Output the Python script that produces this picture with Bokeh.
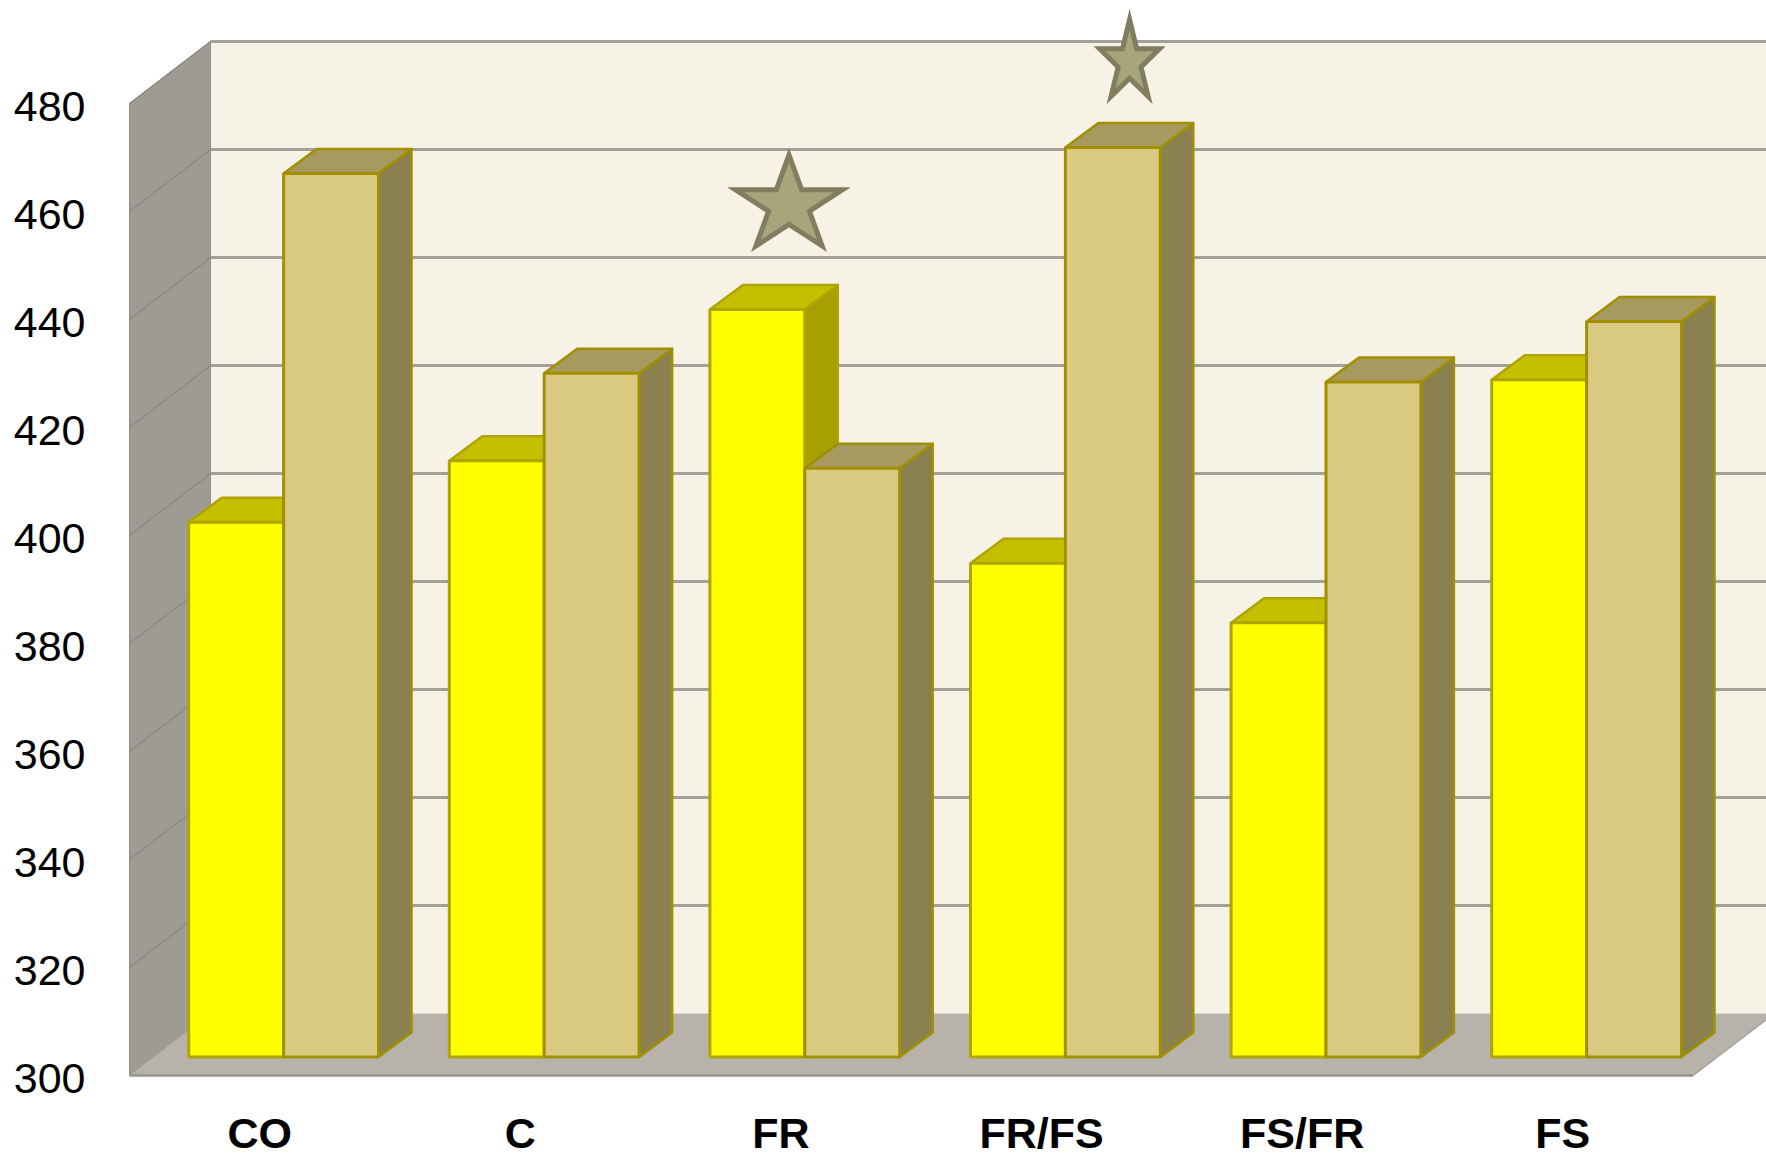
import math
from bokeh.plotting import figure
from bokeh.models import FixedTicker, Range1d, LinearAxis
from bokeh.embed import file_html
from bokeh.resources import INLINE

categories = ["CO", "C", "FR", "FR/FS", "FS/FR", "FS"]
series_a = [399, 410.4, 438.4, 391.4, 380.4, 425.4]
series_b = [463.6, 426.6, 409, 468.4, 425, 436.2]
y_ticks = [300, 320, 340, 360, 380, 400, 420, 440, 460, 480]
star_categories = [2, 3]
star_values = [458.6, 485.0]

W, H = 1766, 1156
PX_X, PX_Y = 260.6, 5.4          # pixels per category / per value unit
LEFT_PX, BOTTOM_PX = 129, 81     # margin left of / below the front floor corner
x0 = -0.5 - LEFT_PX / PX_X
x1 = x0 + W / PX_X
y0 = 300 - BOTTOM_PX / PX_Y
y1 = y0 + H / PX_Y

# projection offsets
WALL_DX, WALL_DY = 81 / PX_X, 62 / PX_Y
BAR_DX, BAR_DY = 23.8 / PX_X, 18.6 / PX_Y
BAR_W = 94.9 / PX_X
TOP_DX, TOP_DY = 33 / PX_X, 24.5 / PX_Y
LABEL_SHIFT = 3 / PX_Y

p = figure(width=W, height=H, x_range=(x0, x1), y_range=(y0, y1),
           output_backend="svg", toolbar_location=None,
           y_axis_location=None,
           min_border=0, min_border_left=0, min_border_right=0,
           min_border_top=0, min_border_bottom=0,
           background_fill_color="white", border_fill_color="white")
p.outline_line_color = None
p.grid.visible = False
p.extra_y_ranges = {"labels": Range1d(y0 + LABEL_SHIFT, y1 + LABEL_SHIFT)}

# back wall, left wall, floor
bx = -0.5 + WALL_DX
far = x1 + 1
p.quad(left=bx, right=far, bottom=300 + WALL_DY, top=480 + WALL_DY,
       fill_color="#F6F2E6", line_color=None)
p.patch([-0.5, bx, bx, -0.5], [300, 300 + WALL_DY, 480 + WALL_DY, 480],
        fill_color="#9E9C92", line_color="#8F8D85", line_width=1)
p.patch([-0.5, 5.5, 5.5 + WALL_DX, bx], [300, 300, 300 + WALL_DY, 300 + WALL_DY],
        fill_color="#B8B3AA", line_color=None)
p.segment(x0=[-0.5], y0=[300], x1=[5.5], y1=[300], line_color="#96938B", line_width=2.5)
p.segment(x0=[5.5], y0=[300], x1=[5.5 + WALL_DX], y1=[300 + WALL_DY], line_color="#A5A29A", line_width=1.5)
grid_t = [t for t in y_ticks if t > 300]
p.segment(x0=[bx] * len(grid_t), y0=[t + WALL_DY for t in grid_t],
          x1=[far] * len(grid_t), y1=[t + WALL_DY for t in grid_t],
          line_color="#A3A09A", line_width=3)
p.segment(x0=[-0.5] * len(grid_t), y0=grid_t,
          x1=[bx] * len(grid_t), y1=[t + WALL_DY for t in grid_t],
          line_color="#8A8880", line_width=1.2)


def draw_bars(values, lefts, front, top, side, edge):
    rights = [l + BAR_W for l in lefts]
    base = 300 + BAR_DY
    tops = [v + BAR_DY for v in values]
    p.patches([[r, r + TOP_DX, r + TOP_DX, r] for r in rights],
              [[base, base + TOP_DY, t + TOP_DY, t] for t in tops],
              fill_color=side, line_color=edge, line_width=2.5, line_join="round")
    p.patches([[l, r, r + TOP_DX, l + TOP_DX] for l, r in zip(lefts, rights)],
              [[t, t, t + TOP_DY, t + TOP_DY] for t in tops],
              fill_color=top, line_color=edge, line_width=2.5, line_join="round")
    p.quad(left=lefts, right=rights, bottom=base, top=tops,
           fill_color=front, line_color=edge, line_width=3)


idx = list(range(len(categories)))
draw_bars(series_a, [i + BAR_DX - BAR_W for i in idx],
          "#FFFF00", "#C4C000", "#A8A000", "#AFA400")
draw_bars(series_b, [i + BAR_DX for i in idx],
          "#DAC981", "#A69A5F", "#8B8050", "#A09000")


def star(cx, cy, w, h):
    # five-pointed star fitted into a w x h pixel box centred on (cx, cy)
    pts = []
    for k in range(10):
        r = 1 if k % 2 == 0 else 0.382
        a = math.pi / 2 + k * math.pi / 5
        pts.append((r * math.cos(a), r * math.sin(a)))
    ymid = (1 - math.cos(math.pi / 5)) / 2
    sx = w / (2 * math.cos(math.pi / 10))
    sy = h / (1 + math.cos(math.pi / 5))
    return ([cx + px * sx / PX_X for px, _ in pts],
            [cy + (py - ymid) * sy / PX_Y for _, py in pts])


star_sizes = [(107, 91), (60, 77)]
star_dx = [8 / PX_X, 88 / PX_X]
xs, ys = [], []
for c, v, (w, h), d in zip(star_categories, star_values, star_sizes, star_dx):
    sx_, sy_ = star(c + d, v + BAR_DY, w, h)
    xs.append(sx_)
    ys.append(sy_)
p.patches(xs, ys, fill_color="#A8A47C", line_color="#807E5E", line_width=5, line_join="miter")

# axes
yax = LinearAxis(y_range_name="labels", ticker=FixedTicker(ticks=y_ticks), fixed_location=-0.5)
yax.axis_line_color = None
yax.major_tick_line_color = None
yax.minor_tick_line_color = None
yax.major_label_standoff = 38
yax.major_label_text_font = "Liberation Sans"
yax.major_label_text_font_size = "43px"
yax.major_label_text_color = "#000000"
p.add_layout(yax, "left")

p.xaxis.ticker = FixedTicker(ticks=idx)
p.xaxis.major_label_overrides = {i: c for i, c in zip(idx, categories)}
p.xaxis.fixed_location = 300
p.xaxis.axis_line_color = None
p.xaxis.major_tick_line_color = None
p.xaxis.minor_tick_line_color = None
p.xaxis.major_label_standoff = 27
p.xaxis.major_label_text_font = "Liberation Sans"
p.xaxis.major_label_text_font_size = "43px"
p.xaxis.major_label_text_font_style = "bold"
p.xaxis.major_label_text_color = "#000000"

open("out.html", "w").write(file_html(p, INLINE))
